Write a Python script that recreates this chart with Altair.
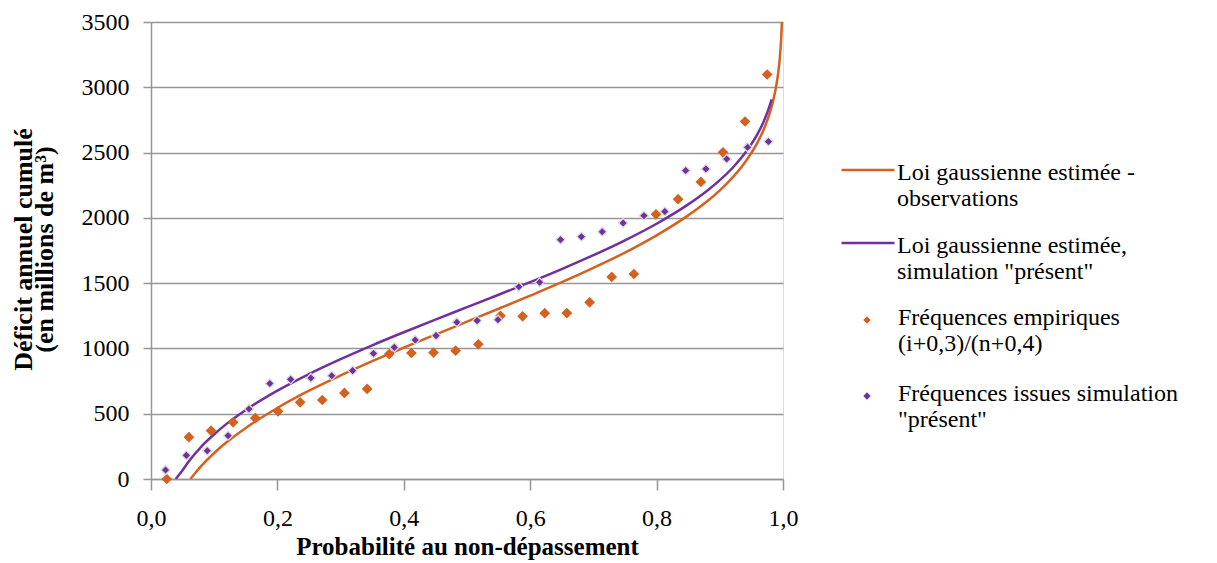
import altair as alt
import pandas as pd

ORANGE = "#D4621F"
PURPLE = "#7030A0"
GRID = "#969696"
FONT = "Liberation Serif"

S_OBS = "Loi gaussienne estimée -\nobservations"
S_SIM = "Loi gaussienne estimée,\nsimulation \"présent\""
S_EMP = "Fréquences empiriques\n(i+0,3)/(n+0,4)"
S_PRE = "Fréquences issues simulation\n\"présent\""

curve_obs_p = [0.0624, 0.07, 0.08, 0.10, 0.12, 0.15, 0.20, 0.25, 0.30, 0.35, 0.40, 0.45,
               0.50, 0.55, 0.60, 0.65, 0.70, 0.75, 0.80, 0.85, 0.88, 0.90, 0.92, 0.94,
               0.96, 0.97, 0.98, 0.985, 0.99, 0.993, 0.995, 0.997, 0.9983]
curve_obs_v = [0, 46, 102, 199, 283, 391, 544, 676, 793, 903, 1006, 1106,
               1205, 1304, 1404, 1507, 1617, 1734, 1866, 2019, 2127, 2211, 2308, 2426,
               2580, 2682, 2817, 2908, 3031, 3134, 3227, 3362, 3500]

# Fitted gaussian curve - simulation "present"
curve_sim_p = [0.039, 0.05, 0.06, 0.08, 0.10, 0.12, 0.15, 0.20, 0.25, 0.30, 0.35, 0.40,
               0.45, 0.50, 0.55, 0.60, 0.65, 0.70, 0.75, 0.80, 0.85, 0.88, 0.90, 0.92,
               0.94, 0.96, 0.97, 0.98, 0.982]
curve_sim_v = [0, 67, 136, 250, 343, 424, 529, 677, 804, 918, 1024, 1124,
               1221, 1316, 1411, 1508, 1608, 1714, 1828, 1955, 2103, 2208, 2289, 2382,
               2496, 2645, 2744, 2875, 2908]

# Empirical frequencies (observations)
emp_p = [0.025, 0.060, 0.095, 0.130, 0.165, 0.201, 0.236, 0.271, 0.306, 0.342, 0.377,
         0.412, 0.447, 0.482, 0.518, 0.553, 0.588, 0.623, 0.658, 0.694, 0.729, 0.764,
         0.799, 0.834, 0.870, 0.905, 0.940, 0.975]
emp_v = [0, 320, 370, 434, 467, 518, 587, 605, 659, 690, 957, 965, 968, 983, 1032,
         1250, 1246, 1270, 1271, 1353, 1548, 1570, 2027, 2143, 2275, 2502, 2738, 3098]

# Frequencies from simulation "present"
pre_p = [0.023, 0.056, 0.089, 0.122, 0.155, 0.188, 0.221, 0.253, 0.286, 0.319, 0.352,
         0.385, 0.418, 0.451, 0.484, 0.516, 0.549, 0.582, 0.615, 0.648, 0.681, 0.714,
         0.747, 0.780, 0.813, 0.846, 0.878, 0.911, 0.944, 0.977]
pre_v = [69, 181, 217, 332, 536, 732, 763, 774, 791, 830, 962, 1008, 1065, 1098, 1200,
         1213, 1220, 1473, 1506, 1833, 1856, 1894, 1961, 2017, 2048, 2362, 2375, 2451,
         2540, 2584]

lines_df = pd.concat([
    pd.DataFrame({"p": curve_obs_p, "v": curve_obs_v, "series": S_OBS}),
    pd.DataFrame({"p": curve_sim_p, "v": curve_sim_v, "series": S_SIM}),
], ignore_index=True)
emp_df = pd.DataFrame({"p": emp_p, "v": emp_v, "series": S_EMP})
pre_df = pd.DataFrame({"p": pre_p, "v": pre_v, "series": S_PRE})

LABEL_SIZE = 24

legend_common = dict(
    title=None,
    orient="none",
    padding=0,
    labelExpr="split(datum.label, '\\n')",
    labelFont=FONT,
    labelFontSize=LABEL_SIZE,
    labelColor="black",
    labelLimit=600,
    labelBaseline="alphabetic",
)

# line symbol drawn slightly above its anchor so it sits on the first label line
line_legend = alt.Legend(
    legendX=689,
    legendY=130,
    labelOffset=1,
    rowPadding=14,
    symbolType="M-1,-0.38H1",
    symbolSize=2800,
    symbolStrokeWidth=2.5,
    **legend_common,
)
point_legend = alt.Legend(
    legendX=704,
    legendY=291,
    labelOffset=19,
    rowPadding=26,
    symbolType="M-1,-1.35L0,-2.35L1,-1.35L0,-0.35Z",
    symbolSize=55,
    symbolStrokeWidth=0,
    symbolOpacity=1,
    **legend_common,
)

stroke_enc = alt.Stroke(
    "series:N",
    scale=alt.Scale(domain=[S_OBS, S_SIM], range=[ORANGE, PURPLE]),
    legend=line_legend,
)
fill_enc = alt.Fill(
    "series:N",
    scale=alt.Scale(domain=[S_EMP, S_PRE], range=[ORANGE, PURPLE]),
    legend=point_legend,
)

x_enc = alt.X(
    "p:Q",
    scale=alt.Scale(domain=[0, 1], nice=False, zero=False),
    axis=alt.Axis(
        values=[0, 0.2, 0.4, 0.6, 0.8, 1.0],
        labelExpr="replace(format(datum.value, '.1f'), '.', ',')",
        title="Probabilité au non-dépassement",
        grid=False,
        tickSize=11,
        tickColor=GRID,
        tickWidth=1.5,
        domainColor=GRID,
        domainWidth=1.5,
        labelPadding=16,
        labelFlush=False,
        labelFont=FONT,
        labelFontSize=LABEL_SIZE,
        labelColor="black",
        titleFont=FONT,
        titleFontSize=25,
        titleFontWeight="bold",
        titleColor="black",
        titleY=55,
        titleBaseline="top",
    ),
)
y_enc = alt.Y(
    "v:Q",
    scale=alt.Scale(domain=[0, 3500], nice=False),
    axis=alt.Axis(
        values=list(range(0, 3501, 500)),
        format="d",
        title=["Déficit annuel cumulé", "(en millions de m³)"],
        grid=True,
        gridColor=GRID,
        gridWidth=1.5,
        tickSize=8,
        tickColor=GRID,
        tickWidth=1.5,
        domainColor=GRID,
        domainWidth=1.5,
        labelPadding=14,
        labelFlush=False,
        labelFont=FONT,
        labelFontSize=LABEL_SIZE,
        labelColor="black",
        titleFont=FONT,
        titleFontSize=26,
        titleFontWeight="bold",
        titleColor="black",
        titleLineHeight=21,
        titleAngle=270,
        titleBaseline="bottom",
        titleX=-115,
        titleY=227,
    ),
)

lines = alt.Chart(lines_df).mark_line(strokeWidth=2.5, interpolate="monotone", clip=True).encode(
    x=x_enc, y=y_enc, stroke=stroke_enc, order="p:Q"
)
emp_pts = alt.Chart(emp_df).mark_point(
    shape="diamond", filled=True, size=115, opacity=1, strokeWidth=0
).encode(x="p:Q", y="v:Q", fill=fill_enc)
pre_pts = alt.Chart(pre_df).mark_point(
    shape="diamond", filled=True, size=80, opacity=1, stroke="#dadada", strokeWidth=1.3
).encode(x="p:Q", y="v:Q", fill=fill_enc)

chart = alt.layer(lines, emp_pts, pre_pts).properties(
    width=632,
    height=457,
    autosize=alt.AutoSizeParams(type="none"),
    padding={"left": 143, "top": 14, "right": 420, "bottom": 82},
).configure_view(stroke=None).configure(font=FONT)

chart.save("out.html", embed_options={"renderer": "svg", "actions": False})
